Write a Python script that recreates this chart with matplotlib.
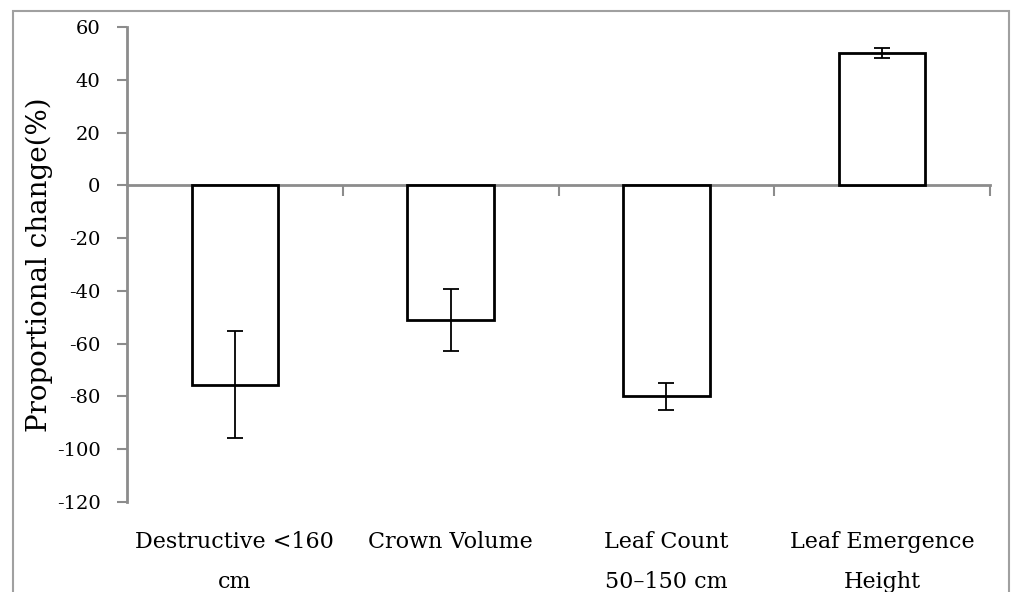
import matplotlib
matplotlib.use("Agg")
import matplotlib.pyplot as plt
from matplotlib.patches import Rectangle
from matplotlib.transforms import blended_transform_factory

categories = ["Destructive <160\ncm", "Crown Volume", "Leaf Count\n50\u2013150 cm", "Leaf Emergence\nHeight"]
values = [-75.5, -51.0, -79.9, 50.1]
errors = [20.2, 11.9, 5.1, 1.8]
yticks = [-120, -100, -80, -60, -40, -20, 0, 20, 40, 60]

plt.rcParams['font.family'] = ['DejaVu Serif']

fig = plt.figure(figsize=(10.11, 5.92), dpi=100)
ax = fig.add_axes([127/1011, 1-502/592, (990-127)/1011, (502-27)/592])

x = list(range(len(categories)))
ax.bar(x, values, width=0.4, color='white', edgecolor='black', linewidth=2, zorder=2)
ax.errorbar(x, values, yerr=errors, fmt='none', ecolor='black', elinewidth=1.3,
            capsize=6, capthick=1.3, zorder=3)

ax.set_xlim(-0.5, 3.5)
ax.set_ylim(-120, 60)
ax.set_yticks(yticks)
ax.set_yticklabels([str(v) for v in yticks], fontsize=14)

gray = '#8c8c8c'
for s in ['top', 'right']:
    ax.spines[s].set_visible(False)
ax.spines['left'].set_color(gray)
ax.spines['left'].set_linewidth(2)
ax.spines['bottom'].set_position(('data', 0))
ax.spines['bottom'].set_color(gray)
ax.spines['bottom'].set_linewidth(2)
ax.spines['bottom'].set_zorder(1)

ax.set_xticks([0.5, 1.5, 2.5, 3.5])
ax.set_xticklabels([])
ax.tick_params(axis='x', direction='out', length=8, width=1.5, color=gray)
ax.tick_params(axis='y', direction='out', length=7, width=1.5, color=gray, pad=12)

trans = blended_transform_factory(ax.transData, ax.transAxes)
for xi, lab in zip(x, categories):
    ax.text(xi, -0.062, lab, transform=trans, ha='center', va='top', fontsize=16,
            linespacing=2.05)

ax.set_ylabel("Proportional change(%)", fontsize=20, labelpad=3)

border = Rectangle((13/1011, -0.05), (1009-13)/1011, 1.05 - 11/592, transform=fig.transFigure,
                   fill=False, edgecolor='#a0a0a0', linewidth=1.5, clip_on=False)
fig.patches.append(border)

fig.savefig("out.png", dpi=100)
